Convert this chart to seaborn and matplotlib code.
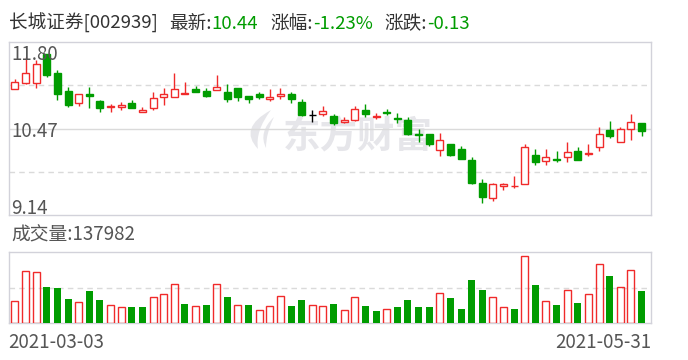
import numpy as np
import pandas as pd
import matplotlib
matplotlib.use("Agg")
import matplotlib.pyplot as plt
from matplotlib.path import Path
from matplotlib.patches import PathPatch
from matplotlib.transforms import Affine2D
import seaborn as sns

# ---------------- data ----------------
title_name = "长城证券[002939]"
latest = "10.44"
pct = "-1.23%"
chg = "-0.13"
vol_label = "成交量:137982"
start_date = "2021-03-03"
end_date = "2021-05-31"
price_ticks = [11.80, 10.47, 9.14]

opens = [11.08, 11.18, 11.17, 11.62, 11.33, 11.05, 10.86, 11.01, 10.90, 10.81,
         10.80, 10.87, 10.73, 10.79, 10.95, 10.96, 11.01, 11.08, 11.05, 11.06,
         11.03, 11.10, 10.97, 11.00, 10.92, 10.97, 11.00, 10.88, 10.68, 10.69,
         10.67, 10.57, 10.61, 10.76, 10.65, 10.72, 10.63, 10.60, 10.38, 10.39,
         10.14, 10.23, 10.16, 9.99, 9.63, 9.40, 9.58, 9.58, 9.61, 10.06,
         9.97, 10.00, 10.03, 10.12, 10.08, 10.18, 10.45, 10.27, 10.46, 10.55]
highs = [11.23, 11.57, 11.52, 11.62, 11.38, 11.11, 11.00, 11.11, 10.91, 10.85,
         10.88, 10.91, 10.81, 11.03, 11.10, 11.32, 11.19, 11.13, 11.09, 11.30,
         11.16, 11.10, 10.98, 11.03, 11.08, 11.10, 11.03, 10.93, 10.76, 10.82,
         10.70, 10.65, 10.82, 10.85, 10.71, 10.77, 10.71, 10.65, 10.46, 10.39,
         10.40, 10.24, 10.20, 10.03, 9.69, 9.64, 9.64, 9.74, 10.23, 10.16,
         10.16, 10.13, 10.26, 10.19, 10.23, 10.50, 10.59, 10.50, 10.70, 10.55]
lows = [11.08, 11.16, 11.09, 11.27, 10.91, 10.81, 10.82, 10.79, 10.73, 10.73,
        10.76, 10.79, 10.72, 10.76, 10.84, 10.95, 11.00, 11.03, 10.96, 11.06,
        10.88, 10.90, 10.86, 10.92, 10.89, 10.92, 10.87, 10.67, 10.58, 10.67,
        10.53, 10.55, 10.59, 10.65, 10.62, 10.68, 10.56, 10.37, 10.26, 10.20,
        10.05, 10.05, 10.01, 9.62, 9.32, 9.35, 9.53, 9.55, 9.61, 9.91,
        9.91, 9.95, 9.95, 9.98, 10.05, 10.12, 10.33, 10.27, 10.30, 10.35]
closes = [11.19, 11.32, 11.46, 11.29, 11.01, 10.84, 11.00, 10.97, 10.79, 10.82,
          10.84, 10.79, 10.76, 10.94, 11.00, 11.08, 11.02, 11.04, 10.98, 11.11,
          10.92, 10.95, 10.93, 10.95, 10.96, 11.00, 10.92, 10.68, 10.68, 10.74,
          10.55, 10.61, 10.78, 10.69, 10.67, 10.71, 10.62, 10.39, 10.37, 10.24,
          10.30, 10.07, 10.01, 9.64, 9.41, 9.61, 9.61, 9.59, 10.18, 9.96,
          10.03, 9.98, 10.11, 9.98, 10.09, 10.38, 10.35, 10.47, 10.57, 10.44]
volumes = [95300, 223300, 219100, 155100, 152200, 103800, 91000, 138000, 99600, 76800,
           68300, 69700, 69700, 111000, 125200, 167900, 82500, 74000, 78200, 167900,
           112400, 78200, 78200, 56900, 74000, 116600, 74000, 99600, 78200, 74000,
           82500, 56900, 111000, 74000, 52600, 59700, 69700, 99600, 69700, 69700,
           128000, 108100, 61200, 184900, 142300, 111000, 68300, 61200, 287300, 163600,
           93900, 78200, 140800, 86800, 123800, 253200, 202000, 153600, 226200, 137982]

# ---------------- style ----------------
sns.set_theme(style="white")
plt.rcParams["font.family"] = ["Noto Sans CJK SC", "DejaVu Sans"]

RED = "#f02a2a"
GREEN = "#009c00"
BORDER = "#d2d2da"
GRID = "#dadada"
TXT = "#555555"
WM = "#e6e6ea"

W, H = 688, 360
fig = plt.figure(figsize=(W / 100, H / 100), dpi=100)
fig.patch.set_facecolor("white")

def px_rect(x0, y0, x1, y1):
    return [x0 / W, 1 - y1 / H, (x1 - x0) / W, (y1 - y0) / H]

ax = fig.add_axes(px_rect(8.5, 42.3, 651, 215))
axv = fig.add_axes(px_rect(8.5, 251.7, 651, 323.3))

n = len(closes)
df = pd.DataFrame({"day": np.arange(n), "open": opens, "high": highs,
                   "low": lows, "close": closes, "volume": volumes})
prev = df["close"].shift(1).fillna(df["open"])
df["up_day"] = df["close"] >= prev

# ---------------- watermark ----------------
pix = Affine2D().scale(1 / W, -1 / H).translate(0, 1) + fig.transFigure
logo1 = Path([(271, 110), (238, 128), (258, 149), (255, 131), (271, 110)],
             [Path.MOVETO, Path.CURVE3, Path.CURVE3, Path.CURVE3, Path.CURVE3])
logo2 = Path([(274, 117), (258, 132), (266, 148), (266, 133), (274, 117)],
             [Path.MOVETO, Path.CURVE3, Path.CURVE3, Path.CURVE3, Path.CURVE3])
for p in (logo1, logo2):
    ax.add_patch(PathPatch(p, transform=pix, facecolor=WM, edgecolor="none", zorder=0.5))
ax.text(0.543, 0.45, "东方财富", transform=ax.transAxes, fontsize=27, fontweight="bold",
        color=WM, ha="center", va="center", zorder=0.5)

# ---------------- candles ----------------
bw = 0.66
for r in df.itertuples():
    top, bot = max(r.open, r.close), min(r.open, r.close)
    if r.close > r.open:
        col, face = RED, "white"
    elif r.close < r.open:
        col, face = GREEN, GREEN
    else:
        col, face = "black", "black"
    if face == "white":
        ax.vlines(r.day, top, r.high, color=col, lw=1.0, zorder=3)
        ax.vlines(r.day, r.low, bot, color=col, lw=1.0, zorder=3)
    else:
        ax.vlines(r.day, r.low, r.high, color=col, lw=1.0, zorder=3)
    ax.bar(r.day, max(top - bot, 0.0005), bottom=bot, width=bw, facecolor=face,
           edgecolor=col, linewidth=1.0, zorder=4)

ax.set_xlim(-0.61, 59.89)
ax.set_ylim(price_ticks[2], price_ticks[0])
ax.axhline(price_ticks[1], color=GRID, lw=1.0, zorder=1)
for yv in [(price_ticks[0] + price_ticks[1]) / 2, (price_ticks[1] + price_ticks[2]) / 2]:
    ax.axhline(yv, color=GRID, lw=1.0, ls=(0, (4, 3)), zorder=1)

# ---------------- volume ----------------
up = df[df["up_day"]]
dn = df[~df["up_day"]]
sns.barplot(data=dn, x="day", y="volume", native_scale=True, color=GREEN,
            saturation=1, width=0.66, errorbar=None, ax=axv, linewidth=0, zorder=3)
sns.barplot(data=up, x="day", y="volume", native_scale=True, color=RED,
            saturation=1, width=0.66, errorbar=None, ax=axv, fill=False,
            linewidth=1.0, zorder=3)
axv.set_xlim(-0.61, 59.89)
axv.set_ylim(0, 305800)
axv.axhline(305800 / 2, color=GRID, lw=1.0, ls=(0, (4, 3)), zorder=1)

for a in (ax, axv):
    a.set_xticks([])
    a.set_yticks([])
    a.set_xlabel("")
    a.set_ylabel("")
    for s in a.spines.values():
        s.set_color(BORDER)
        s.set_linewidth(1.0)
        s.set_visible(True)

# ---------------- texts ----------------
def fy(ypx):
    return 1 - ypx / H

lab_fs = 13.5
fig.text(11 / W, fy(60), f"{price_ticks[0]:.2f}", fontsize=lab_fs, color=TXT, va="baseline", ha="left")
fig.text(11 / W, fy(137.3), f"{price_ticks[1]:.2f}", fontsize=lab_fs, color=TXT, va="baseline", ha="left")
fig.text(11 / W, fy(214), f"{price_ticks[2]:.2f}", fontsize=lab_fs, color=TXT, va="baseline", ha="left")
fig.text(11 / W, fy(240), vol_label, fontsize=lab_fs, color=TXT, va="baseline", ha="left")
fig.text(8 / W, fy(348.3), start_date, fontsize=lab_fs, color=TXT, va="baseline", ha="left")
fig.text(651 / W, fy(348.3), end_date, fontsize=lab_fs, color=TXT, va="baseline", ha="right")

renderer = fig.canvas.get_renderer()
segments = [(title_name, "#333333", 0), ("最新:", "#333333", 12), (latest, GREEN, 0),
            ("涨幅:", "#333333", 12), (pct, GREEN, 0), ("涨跌:", "#333333", 12), (chg, GREEN, 0)]
xcur = 8.5
for s, c, gap in segments:
    xcur += gap
    t = fig.text(xcur / W, fy(29), s, fontsize=13.4, color=c, va="baseline", ha="left")
    bb = t.get_window_extent(renderer)
    xcur = bb.x1

fig.savefig("out.png", dpi=100, facecolor="white")
